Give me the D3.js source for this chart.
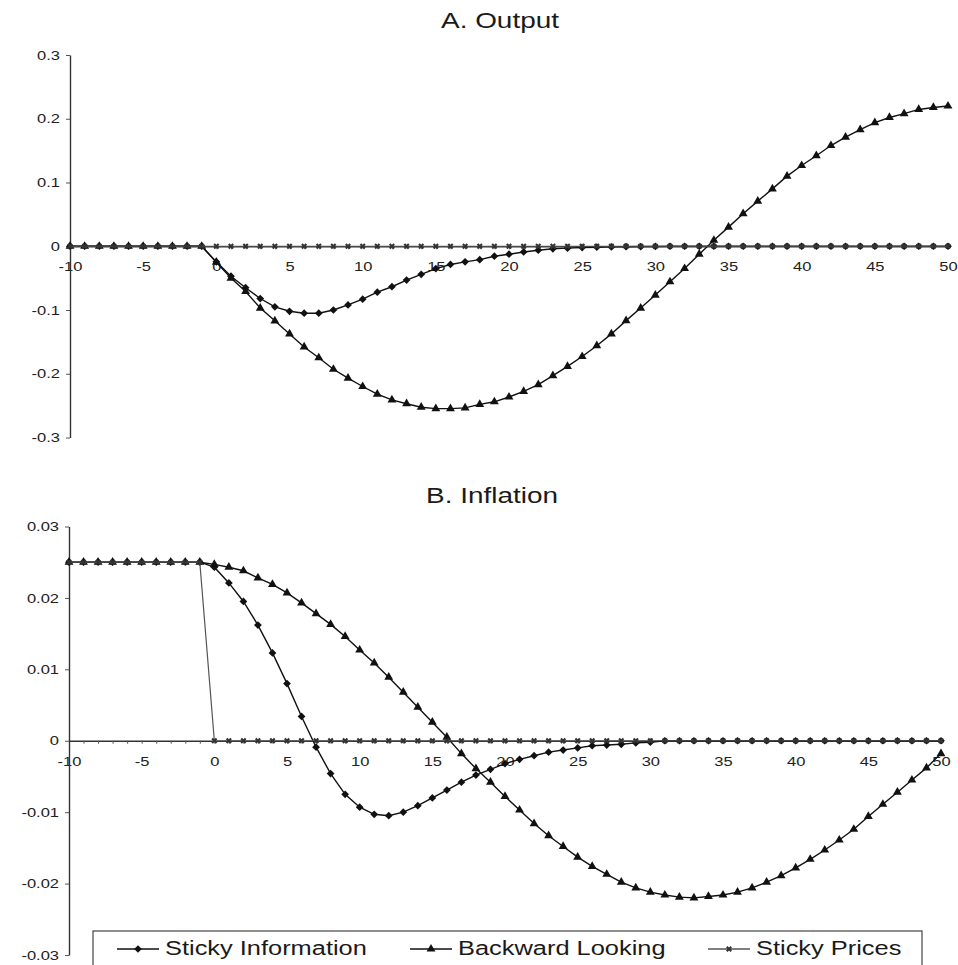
<!DOCTYPE html>
<html>
<head>
<meta charset="utf-8">
<title>Output and Inflation</title>
<script src="https://cdn.jsdelivr.net/npm/d3@7/dist/d3.min.js"></script>
<style>
  body { margin: 0; background: #fff; }
  svg { display: block; font-family: "Liberation Sans", Arial, sans-serif; }
</style>
</head>
<body>
<svg id="chart" width="958" height="965"></svg>
<script>
'use strict';

// periods, -10 .. 50
var periods = d3.range(-10, 51);

// A. Output (t = -10..-1 are all zero)
var outputStickyInfo = [0,0,0,0,0,0,0,0,0,0,
  -0.0245,-0.047,-0.065,-0.082,-0.095,-0.102,-0.105,-0.105,-0.100,-0.092,
  -0.083,-0.072,-0.0635,-0.053,-0.044,-0.035,-0.0286,-0.0245,-0.021,-0.0156,
  -0.0125,-0.009,-0.0062,-0.004,-0.003,-0.002,-0.0015,-0.001,-0.0007,-0.0005,
  -0.0003,0,0,0,0,0,0,0,0,0,
  0,0,0,0,0,0,0,0,0,0,0];
var outputBackward = [0,0,0,0,0,0,0,0,0,0,
  -0.025,-0.050,-0.071,-0.097,-0.117,-0.1375,-0.158,-0.175,-0.193,-0.207,
  -0.220,-0.232,-0.241,-0.247,-0.2525,-0.2547,-0.2547,-0.2536,-0.248,-0.244,
  -0.2365,-0.2276,-0.217,-0.203,-0.1885,-0.173,-0.156,-0.1375,-0.1167,-0.097,
  -0.0766,-0.0557,-0.035,-0.0125,0.0094,0.030,0.051,0.0708,0.090,0.110,
  0.1266,0.142,0.158,0.171,0.183,0.194,0.202,0.208,0.2146,0.2177,0.220];
var outputStickyPrices = periods.map(function() { return 0; });

// B. Inflation (t = -10..-1 are all 0.025)
var inflationStickyInfo = [0.025,0.025,0.025,0.025,0.025,0.025,0.025,0.025,0.025,0.025,
  0.0243,0.0221,0.0195,0.0162,0.0123,0.0080,0.0034,-0.0009,-0.0046,-0.0075,
  -0.0093,-0.0103,-0.0105,-0.0100,-0.0091,-0.0080,-0.0069,-0.0058,-0.0048,-0.0040,
  -0.0032,-0.0026,-0.0021,-0.0016,-0.0013,-0.0010,-0.0007,-0.0006,-0.0005,-0.0003,
  -0.0002,0,0,0,0,0,0,0,0,0,
  0,0,0,0,0,0,0,0,0,0,0];
var inflationBackward = [0.025,0.025,0.025,0.025,0.025,0.025,0.025,0.025,0.025,0.025,
  0.0247,0.0243,0.0238,0.0228,0.0219,0.0207,0.0193,0.0178,0.0163,0.0146,
  0.0127,0.0109,0.0089,0.0068,0.0047,0.0026,0.0005,-0.0018,-0.0039,-0.0058,
  -0.0078,-0.0097,-0.0116,-0.0133,-0.0148,-0.0163,-0.0176,-0.0187,-0.0198,-0.0206,
  -0.0212,-0.0216,-0.0219,-0.0220,-0.0218,-0.0216,-0.0212,-0.0206,-0.0198,-0.0189,
  -0.0178,-0.0166,-0.0153,-0.0139,-0.0124,-0.0106,-0.0089,-0.0072,-0.0055,-0.0038,-0.0018];
var inflationStickyPrices = periods.map(function(t) { return t < 0 ? 0.025 : 0; });

var outputTicks = [0.3, 0.2, 0.1, 0, -0.1, -0.2, -0.3];
var inflationTicks = [0.03, 0.02, 0.01, 0, -0.01, -0.02, -0.03];
var seriesNames = ["Sticky Information", "Backward Looking", "Sticky Prices"];

// the scan is stretched sideways, so the text is too
var SX = 1.27;

var svg = d3.select("#chart");

// marker generators
var diamond = d3.symbol().type(d3.symbolSquare).size(30);
var triangle = d3.symbol().type(d3.symbolTriangle).size(34);
var cross = d3.symbol().type(d3.symbolCross).size(22);

function drawMarker(g, kind, x, y) {
  if (kind === 0) {
    g.append("path").attr("d", diamond())
      .attr("transform", "translate(" + x + "," + y + ") rotate(45)")
      .attr("fill", "#111");
  } else if (kind === 1) {
    g.append("path").attr("d", triangle())
      .attr("transform", "translate(" + x + "," + y + ")")
      .attr("fill", "#111");
  } else {
    g.append("path").attr("d", cross())
      .attr("transform", "translate(" + x + "," + y + ") rotate(45)")
      .attr("fill", "#333");
  }
}

function stretchedText(g, str, x, y, size, anchor) {
  return g.append("text")
    .attr("transform", "translate(" + x + "," + y + ") scale(" + SX + ",1)")
    .attr("text-anchor", anchor)
    .attr("font-size", size)
    .attr("fill", "#1a1a1a")
    .text(str);
}

function drawPanel(opts) {
  var g = svg.append("g");
  var x = d3.scaleLinear().domain([-10, 50]).range(opts.xRange);
  var y = d3.scaleLinear().domain([opts.ticks[6], opts.ticks[0]]).range(opts.yRange);

  stretchedText(g, opts.title, opts.titleX, opts.titleY, 22, "middle");

  // x axis along zero, a tick every period, a label every 5
  var xAxis = g.append("g")
    .attr("transform", "translate(0," + y(0) + ")")
    .call(d3.axisBottom(x)
      .tickValues(periods)
      .tickSize(3)
      .tickSizeOuter(0)
      .tickPadding(13)
      .tickFormat(function(d) { return d % 5 === 0 ? d : ""; }));

  // y axis
  var yAxis = g.append("g")
    .attr("transform", "translate(" + opts.xRange[0] + ",0)")
    .call(d3.axisLeft(y)
      .tickValues(opts.ticks)
      .tickSize(4)
      .tickSizeOuter(0)
      .tickPadding(6)
      .tickFormat(function(d) { return String(d); }));

  [xAxis, yAxis].forEach(function(a) {
    a.select(".domain").attr("stroke", "#333").attr("stroke-width", 1.4);
    a.selectAll(".tick line").attr("stroke", "#555").attr("stroke-width", 1);
    a.selectAll("text")
      .attr("font-size", 13)
      .attr("font-family", "'Liberation Sans', Arial, sans-serif")
      .attr("fill", "#222");
  });
  yAxis.selectAll("text")
    .attr("x", -10 / SX)
    .attr("transform", "scale(" + SX + ",1)");
  xAxis.selectAll("text")
    .attr("transform", "scale(" + SX + ",1)");

  var line = d3.line()
    .x(function(d, i) { return x(periods[i]); })
    .y(function(d) { return y(d); });

  opts.series.forEach(function(vals, k) {
    g.append("path")
      .datum(vals)
      .attr("fill", "none")
      .attr("stroke", k === 2 ? "#555" : "#111")
      .attr("stroke-width", k === 2 ? 1.2 : 1.4)
      .attr("d", line);
    var mg = g.append("g");
    vals.forEach(function(v, i) {
      drawMarker(mg, k, x(periods[i]), y(v));
    });
  });
}

drawPanel({
  title: "A. Output", titleX: 500, titleY: 28,
  xRange: [70, 948], yRange: [437.5, 55],
  ticks: outputTicks,
  series: [outputStickyInfo, outputBackward, outputStickyPrices]
});

drawPanel({
  title: "B. Inflation", titleX: 492, titleY: 503,
  xRange: [69, 941], yRange: [955, 526.5],
  ticks: inflationTicks,
  series: [inflationStickyInfo, inflationBackward, inflationStickyPrices]
});

// legend box at the bottom, cut off by the page edge
var legend = svg.append("g");
legend.append("rect")
  .attr("x", 93).attr("y", 931)
  .attr("width", 829).attr("height", 50)
  .attr("fill", "#fff")
  .attr("stroke", "#444")
  .attr("stroke-width", 1.2);

var legendX = [117, 410, 708];
seriesNames.forEach(function(name, k) {
  var lx = legendX[k];
  legend.append("line")
    .attr("x1", lx).attr("x2", lx + 42)
    .attr("y1", 949).attr("y2", 949)
    .attr("stroke", k === 2 ? "#555" : "#111")
    .attr("stroke-width", 1.3);
  drawMarker(legend, k, lx + 21, 949);
  stretchedText(legend, name, lx + 48, 955, 20, "start");
});
</script>
</body>
</html>
